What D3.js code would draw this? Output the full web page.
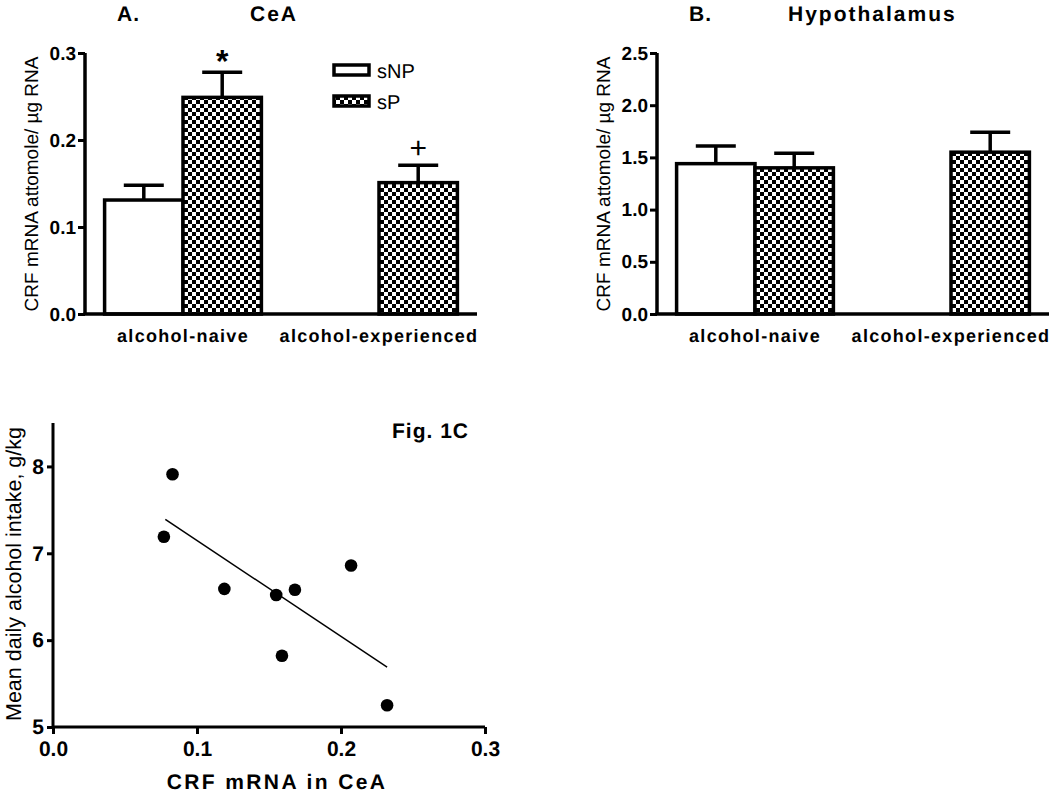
<!DOCTYPE html>
<html><head><meta charset="utf-8">
<script src="https://cdn.jsdelivr.net/npm/d3@7"></script>
<style>
body{margin:0;background:#fff;}
svg{display:block;font-family:"Liberation Sans",Arial,Helvetica,sans-serif;text-rendering:geometricPrecision;}
</style></head>
<body>
<svg id="c" width="1050" height="795"></svg>
<script>
// ---- data ----
const categories = ["alcohol-naive", "alcohol-experienced"];
const seriesNames = ["sNP", "sP"];
// Panel A (CeA): mean and upper error (mean+SEM); null = missing
const ceaMean = { sNP: [0.131, null], sP: [0.249, 0.151] };
const ceaErr  = { sNP: [0.148, null], sP: [0.278, 0.171] };
// Panel B (Hypothalamus)
const hypMean = { sNP: [1.44, null], sP: [1.40, 1.55] };
const hypErr  = { sNP: [1.61, null], sP: [1.54, 1.74] };
const ceaTicks = [0.0, 0.1, 0.2, 0.3];
const hypTicks = [0.0, 0.5, 1.0, 1.5, 2.0, 2.5];
// Panel C scatter
const crfX = [0.083, 0.077, 0.119, 0.155, 0.168, 0.207, 0.159, 0.232];
const intakeY = [7.91, 7.19, 6.59, 6.52, 6.58, 6.86, 5.82, 5.25];
const fitX = [0.078, 0.232];
const fitY = [7.39, 5.69];
const scatterXTicks = [0.0, 0.1, 0.2, 0.3];
const scatterYTicks = [5, 6, 7, 8];

const svg = d3.select("#c");
const defs = svg.append("defs");
const pat = defs.append("pattern").attr("id","checker").attr("patternUnits","userSpaceOnUse")
  .attr("width",8).attr("height",8);
pat.append("rect").attr("width",8).attr("height",8).attr("fill","#fff");
pat.append("rect").attr("x",0).attr("y",0).attr("width",4).attr("height",4).attr("fill","#000");
pat.append("rect").attr("x",4).attr("y",4).attr("width",4).attr("height",4).attr("fill","#000");

function barPanel(opt){
  const g = svg.append("g");
  const y = d3.scaleLinear().domain(opt.domain).range([314, 53]);
  const x = d3.scaleBand().domain(categories).range([opt.x0, opt.x0 + 392]).padding(0);
  const bw = x.step() * 0.4;
  const bx = (cat, s) => x(cat) + x.bandwidth()/2 + (s === "sNP" ? -bw : 0);
  // bars
  seriesNames.forEach(s => {
    categories.forEach((cat, i) => {
      const v = opt.mean[s][i];
      if (v == null) return;
      const e = opt.err[s][i];
      const cx = bx(cat, s) + bw/2;
      g.append("line").attr("x1",cx).attr("x2",cx).attr("y1",y(v)).attr("y2",y(e))
        .attr("stroke","#000").attr("stroke-width",3.5);
      g.append("line").attr("x1",cx-20).attr("x2",cx+20).attr("y1",y(e)).attr("y2",y(e))
        .attr("stroke","#000").attr("stroke-width",3.5);
      g.append("rect").attr("x",bx(cat,s)).attr("y",y(v)).attr("width",bw).attr("height",y(0)-y(v))
        .attr("fill", s === "sNP" ? "#fff" : "url(#checker)").attr("stroke","#000").attr("stroke-width",3.5);
    });
  });
  // y axis
  const ya = g.append("g").attr("transform",`translate(${opt.x0},0)`)
    .call(d3.axisLeft(y).tickValues(opt.ticks).tickFormat(d3.format(opt.fmt)).tickSize(7).tickPadding(2));
  ya.select(".domain").attr("stroke-width",3.5).attr("d",`M0,${y(opt.domain[1])}V${y(0)}`);
  ya.selectAll(".tick line").attr("stroke-width",3);
  ya.selectAll(".tick text").attr("font-size",19).attr("font-weight","bold").attr("fill","#000")
    .attr("font-family","Liberation Sans, Arial, sans-serif");
  // x axis line
  g.append("line").attr("x1",opt.x0-1.5).attr("x2",opt.x0+392).attr("y1",y(0)).attr("y2",y(0))
    .attr("stroke","#000").attr("stroke-width",3.5);
  // category labels
  categories.forEach(cat => {
    g.append("text").attr("x", x(cat)+x.bandwidth()/2).attr("y",342).attr("text-anchor","middle")
      .attr("font-size",18).attr("font-weight","bold").attr("letter-spacing","1.3px").text(cat);
  });
  // y label
  g.append("text").attr("transform",`translate(${opt.ylabX},184) rotate(-90)`).attr("text-anchor","middle")
    .attr("font-size",19).text("CRF mRNA attomole/ µg RNA");
  // titles
  g.append("text").attr("x",opt.t1x).attr("y",21).attr("font-size",21).attr("font-weight","bold")
    .attr("letter-spacing","1px").text(opt.t1);
  g.append("text").attr("x",opt.t2x).attr("y",21).attr("font-size",21).attr("font-weight","bold")
    .attr("letter-spacing","2px").text(opt.t2);
  return {g, x, y, bw};
}

const A = barPanel({x0:85, domain:[0,0.3], ticks:ceaTicks, fmt:".1f", mean:ceaMean, err:ceaErr,
  ylabX:38, t1:"A.", t1x:117, t2:"CeA", t2x:250});
const B = barPanel({x0:657, domain:[0,2.5], ticks:hypTicks, fmt:".1f", mean:hypMean, err:hypErr,
  ylabX:610, t1:"B.", t1x:689, t2:"Hypothalamus", t2x:788});

// significance marks in A
A.g.append("text").attr("x", A.x("alcohol-naive")+A.x.bandwidth()/2 + A.bw/2).attr("y",72)
  .attr("text-anchor","middle").attr("font-size",32).attr("font-weight","bold").text("*");
A.g.append("text").attr("x", A.x("alcohol-experienced")+A.x.bandwidth()/2 + A.bw/2).attr("y",158)
  .attr("text-anchor","middle").attr("font-size",30).text("+");

// legend in A
const leg = svg.append("g");
seriesNames.forEach((s,i) => {
  const yy = 65 + i*31;
  leg.append("rect").attr("x",334).attr("y",yy).attr("width",35).attr("height",10)
    .attr("fill", s === "sNP" ? "#fff" : "url(#checker)").attr("stroke","#000").attr("stroke-width",3.5);
  leg.append("text").attr("x",377).attr("y",yy+13).attr("font-size",20).text(s);
});

// Panel C
const gc = svg.append("g");
const xs = d3.scaleLinear().domain([0,0.3]).range([53,485]);
const ys = d3.scaleLinear().domain([5,8.5]).range([727,423]);
const xa = gc.append("g").attr("transform","translate(0,727)")
  .call(d3.axisBottom(xs).tickValues(scatterXTicks).tickFormat(d3.format(".1f")).tickSize(7).tickPadding(7));
xa.select(".domain").attr("stroke-width",3).attr("d","M53,0H485");
xa.selectAll(".tick line").attr("stroke-width",3);
xa.selectAll(".tick text").attr("font-size",21).attr("font-weight","bold").attr("fill","#000")
  .attr("font-family","Liberation Sans, Arial, sans-serif");
const yaC = gc.append("g").attr("transform","translate(53,0)")
  .call(d3.axisLeft(ys).tickValues(scatterYTicks).tickFormat(d3.format("d")).tickSize(6).tickPadding(3));
yaC.select(".domain").attr("stroke-width",3).attr("d","M0,423V727");
yaC.selectAll(".tick line").attr("stroke-width",3);
yaC.selectAll(".tick text").attr("font-size",21).attr("font-weight","bold").attr("fill","#000")
  .attr("font-family","Liberation Sans, Arial, sans-serif");
gc.append("line").attr("x1",xs(fitX[0])).attr("y1",ys(fitY[0])).attr("x2",xs(fitX[1])).attr("y2",ys(fitY[1]))
  .attr("stroke","#000").attr("stroke-width",1.5);
gc.selectAll("circle.pt").data(crfX).enter().append("circle").attr("class","pt")
  .attr("cx",d=>xs(d)).attr("cy",(d,i)=>ys(intakeY[i])).attr("r",6.3).attr("fill","#000");
gc.append("text").attr("x",392).attr("y",438).attr("font-size",21).attr("font-weight","bold")
  .attr("letter-spacing","1px").text("Fig. 1C");
gc.append("text").attr("x",277).attr("y",789).attr("text-anchor","middle").attr("font-size",21)
  .attr("font-weight","bold").attr("letter-spacing","2.4px").text("CRF mRNA in CeA");
gc.append("text").attr("transform","translate(21,574) rotate(-90)").attr("text-anchor","middle")
  .attr("font-size",21.5).text("Mean daily alcohol intake, g/kg");
</script>
</body></html>
